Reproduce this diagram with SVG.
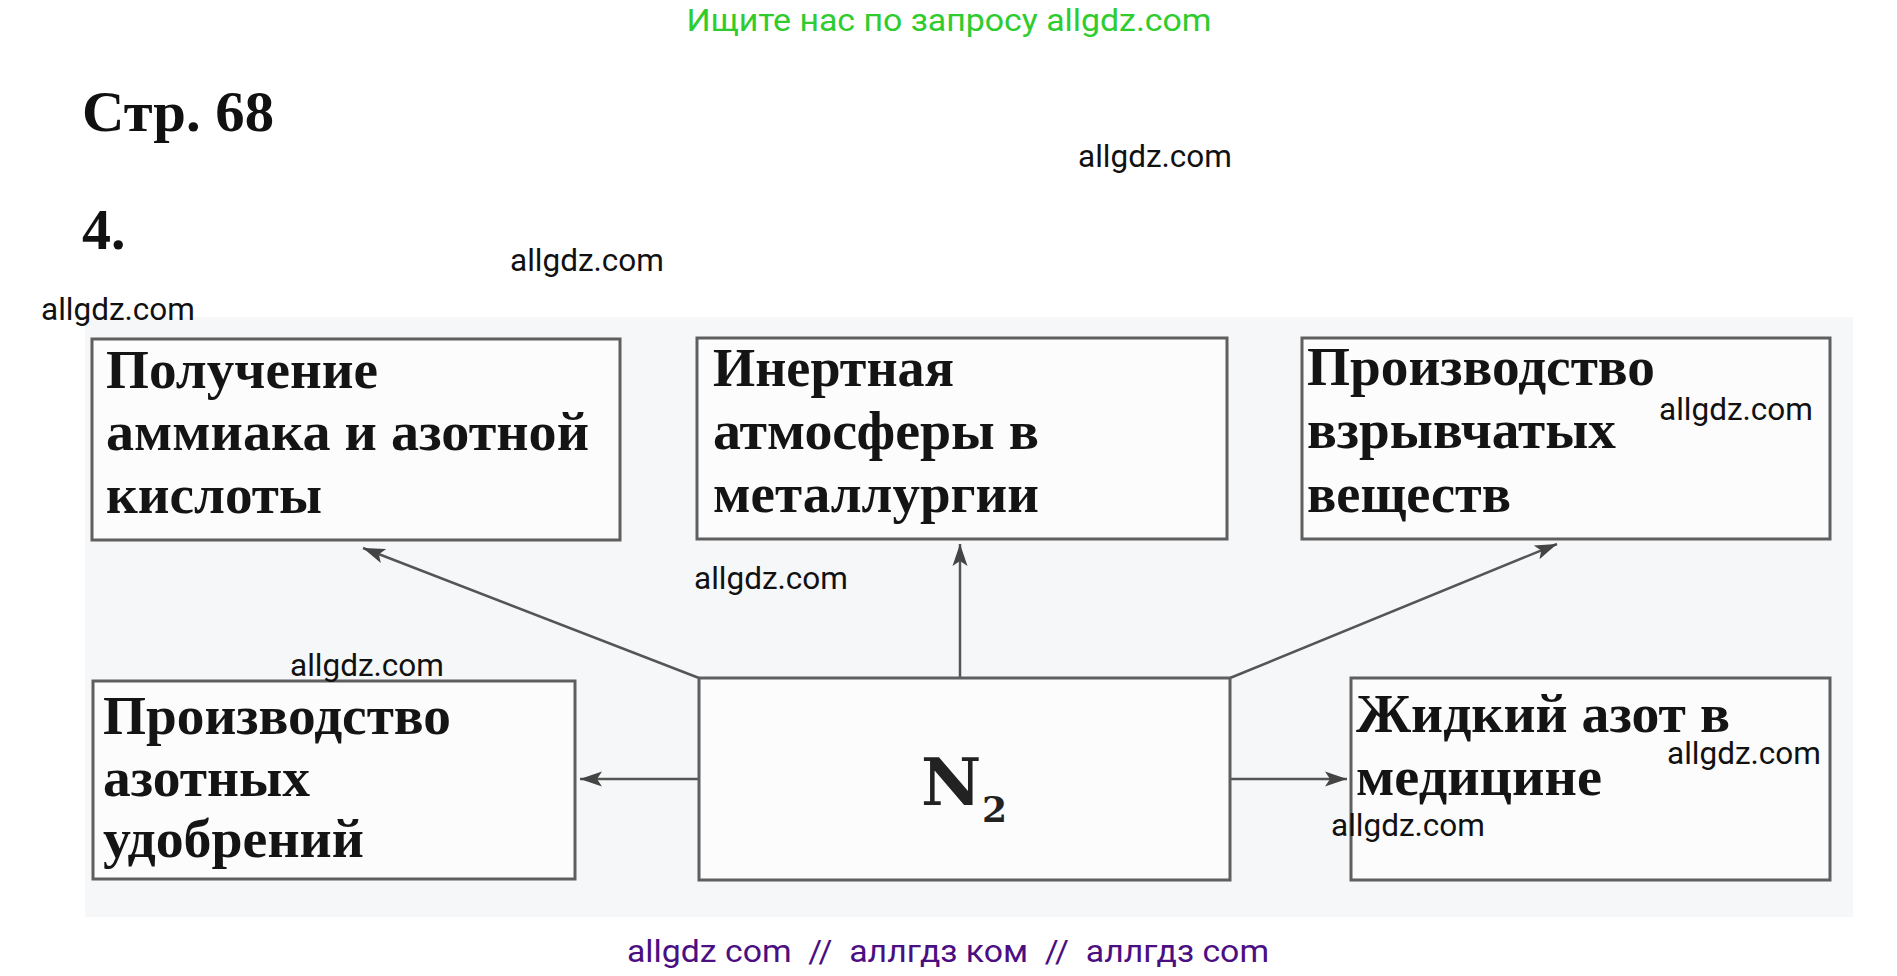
<svg xmlns="http://www.w3.org/2000/svg" width="1897" height="976" viewBox="0 0 1897 976">
<defs>
<style>
.wm{font-family:Roboto,"Liberation Sans",sans-serif;font-size:31.5px;fill:#111}
.box{fill:#fcfcfc;stroke:#5f5f5f;stroke-width:3}
.lbl{font-family:"Liberation Serif","DejaVu Serif",serif;font-weight:bold;font-size:55px;fill:#141414}
.hd{font-family:"Liberation Serif","DejaVu Serif",serif;font-weight:bold;font-size:58px;fill:#111}
.con{stroke:#555;stroke-width:2.5;fill:none;marker-end:url(#ah)}
</style>
<marker id="ah" markerUnits="userSpaceOnUse" markerWidth="24" markerHeight="18" refX="22" refY="9" orient="auto">
<path d="M0,1.5 L22,9 L0,16.5 L5,9 z" fill="#444"/>
</marker>
</defs>
<rect width="1897" height="976" fill="#fff"/>
<rect x="85" y="317" width="1768" height="600" fill="#f6f7f8"/>
<text x="949" y="31" text-anchor="middle" font-family="Roboto,'Liberation Sans',sans-serif" font-size="32" fill="#2ecc2e" textLength="525" lengthAdjust="spacingAndGlyphs">Ищите нас по запросу allgdz.com</text>
<text class="hd" x="82" y="131" textLength="192" lengthAdjust="spacingAndGlyphs">Стр. 68</text>
<text class="hd" x="82" y="249">4.</text>
<g id="connectors">
<line class="con" x1="699" y1="678" x2="363" y2="548"/>
<line class="con" x1="960" y1="678" x2="960" y2="544"/>
<line class="con" x1="1230" y1="678" x2="1557" y2="544"/>
<line class="con" x1="699" y1="779" x2="580" y2="779"/>
<line class="con" x1="1230" y1="779" x2="1347" y2="779"/>
</g>
<g id="node-ammonia">
<rect class="box" x="92" y="339" width="528" height="201"/>
<text class="lbl" x="106" y="388" textLength="272" lengthAdjust="spacingAndGlyphs">Получение</text>
<text class="lbl" x="106" y="450" textLength="483" lengthAdjust="spacingAndGlyphs">аммиака и азотной</text>
<text class="lbl" x="106" y="513" textLength="216" lengthAdjust="spacingAndGlyphs">кислоты</text>
</g>
<g id="node-inert">
<rect class="box" x="697" y="338" width="530" height="201"/>
<text class="lbl" x="713" y="386" textLength="241" lengthAdjust="spacingAndGlyphs">Инертная</text>
<text class="lbl" x="713" y="449" textLength="326" lengthAdjust="spacingAndGlyphs">атмосферы в</text>
<text class="lbl" x="713" y="512" textLength="326" lengthAdjust="spacingAndGlyphs">металлургии</text>
</g>
<g id="node-explosives">
<rect class="box" x="1302" y="338" width="528" height="201"/>
<text class="lbl" x="1307" y="385" textLength="348" lengthAdjust="spacingAndGlyphs">Производство</text>
<text class="lbl" x="1307" y="448" textLength="309" lengthAdjust="spacingAndGlyphs">взрывчатых</text>
<text class="lbl" x="1307" y="512" textLength="204" lengthAdjust="spacingAndGlyphs">веществ</text>
</g>
<g id="node-fertilizers">
<rect class="box" x="93" y="681" width="482" height="198"/>
<text class="lbl" x="103" y="734" textLength="348" lengthAdjust="spacingAndGlyphs">Производство</text>
<text class="lbl" x="103" y="796" textLength="207" lengthAdjust="spacingAndGlyphs">азотных</text>
<text class="lbl" x="103" y="857" textLength="261" lengthAdjust="spacingAndGlyphs">удобрений</text>
</g>
<g id="node-n2">
<rect class="box" x="699" y="678" width="531" height="202"/>
<text x="921" y="805" font-family="'DejaVu Serif','Liberation Serif',serif" font-weight="bold" font-size="66" fill="#222">N</text>
<text x="982" y="822" font-family="'DejaVu Serif','Liberation Serif',serif" font-weight="bold" font-size="36" fill="#222">2</text>
</g>
<g id="node-medicine">
<rect class="box" x="1351" y="678" width="479" height="202"/>
<text class="lbl" x="1356" y="732" textLength="374" lengthAdjust="spacingAndGlyphs">Жидкий азот в</text>
<text class="lbl" x="1356" y="795" textLength="246" lengthAdjust="spacingAndGlyphs">медицине</text>
</g>
<text class="wm" x="1078" y="167">allgdz.com</text>
<text class="wm" x="510" y="271">allgdz.com</text>
<text class="wm" x="41" y="320">allgdz.com</text>
<text class="wm" x="694" y="589">allgdz.com</text>
<text class="wm" x="290" y="676">allgdz.com</text>
<text class="wm" x="1659" y="420">allgdz.com</text>
<text class="wm" x="1667" y="764">allgdz.com</text>
<text class="wm" x="1331" y="836">allgdz.com</text>
<text x="948" y="962" text-anchor="middle" font-family="Roboto,'Liberation Sans',sans-serif" font-size="32" fill="#4b0f82" xml:space="preserve" textLength="642" lengthAdjust="spacingAndGlyphs">allgdz com  //  аллгдз ком  //  аллгдз com</text>
</svg>
